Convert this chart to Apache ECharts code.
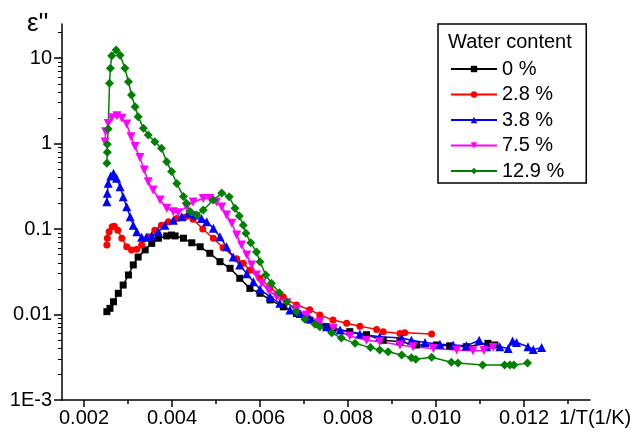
<!DOCTYPE html>
<html>
<head>
<meta charset="utf-8">
<script src="https://cdn.jsdelivr.net/npm/echarts@6/dist/echarts.min.js"></script>
<style>
  html, body { margin: 0; padding: 0; background: #fff; }
  #chart { width: 637px; height: 432px; }
</style>
</head>
<body>
<div id="chart"></div>
<script>
// 1/T values (1/K) and epsilon''
const invT_0 = [0.00252, 0.00259, 0.00267, 0.00278, 0.00289, 0.00301, 0.00312, 0.00323, 0.00339, 0.00354, 0.00369, 0.00388, 0.00399, 0.00407, 0.00426, 0.00445, 0.00464, 0.00486, 0.00509, 0.00532, 0.00554, 0.00577, 0.006, 0.00623, 0.00653, 0.00683, 0.00713, 0.00751, 0.00766, 0.00804, 0.00842, 0.0088, 0.00918, 0.00956, 0.01001, 0.01031, 0.01069, 0.01118, 0.01134];
const eps_0 = [0.0108, 0.0118, 0.0141, 0.0177, 0.0221, 0.029, 0.038, 0.047, 0.057, 0.068, 0.078, 0.083, 0.085, 0.083, 0.078, 0.069, 0.062, 0.052, 0.0415, 0.0347, 0.0265, 0.0202, 0.0177, 0.0148, 0.0123, 0.0103, 0.0086, 0.0072, 0.0069, 0.0063, 0.0058, 0.005, 0.0048, 0.0044, 0.0044, 0.0043, 0.0042, 0.0046, 0.0044];

const invT_28 = [0.00252, 0.00253, 0.00257, 0.00264, 0.00269, 0.00277, 0.00286, 0.00297, 0.00308, 0.0032, 0.00331, 0.00346, 0.00361, 0.00376, 0.00392, 0.00411, 0.00429, 0.00448, 0.0047, 0.00494, 0.00516, 0.00547, 0.00562, 0.00577, 0.006, 0.00623, 0.00653, 0.00683, 0.00713, 0.00736, 0.00766, 0.00797, 0.00827, 0.00865, 0.0088, 0.00918, 0.00929, 0.0099];
const eps_28 = [0.065, 0.078, 0.093, 0.106, 0.108, 0.097, 0.078, 0.062, 0.057, 0.058, 0.065, 0.081, 0.097, 0.111, 0.122, 0.133, 0.137, 0.13, 0.1, 0.078, 0.0605, 0.045, 0.0397, 0.033, 0.0265, 0.0205, 0.016, 0.0129, 0.0114, 0.0099, 0.0086, 0.0079, 0.0073, 0.0067, 0.0063, 0.006, 0.0061, 0.0059];

const invT_38 = [0.00252, 0.00253, 0.00255, 0.00261, 0.00267, 0.00274, 0.00282, 0.00289, 0.00297, 0.00305, 0.00312, 0.0032, 0.00331, 0.00342, 0.00354, 0.00369, 0.00384, 0.00403, 0.00422, 0.00437, 0.00452, 0.00467, 0.00479, 0.00494, 0.00509, 0.00524, 0.00539, 0.00554, 0.0057, 0.00585, 0.006, 0.00623, 0.00645, 0.00668, 0.00691, 0.00713, 0.00751, 0.00782, 0.00827, 0.00872, 0.00922, 0.00944, 0.00975, 0.01009, 0.01039, 0.01069, 0.01098, 0.01115, 0.01145, 0.01164, 0.01174, 0.01183, 0.01209, 0.01221, 0.0124];
const eps_38 = [0.208, 0.262, 0.342, 0.417, 0.448, 0.392, 0.313, 0.239, 0.182, 0.139, 0.111, 0.093, 0.08, 0.08, 0.083, 0.093, 0.111, 0.127, 0.139, 0.153, 0.146, 0.133, 0.122, 0.102, 0.081, 0.062, 0.047, 0.038, 0.03, 0.0242, 0.0197, 0.0161, 0.0135, 0.0113, 0.0103, 0.009, 0.0072, 0.0066, 0.0059, 0.0055, 0.0053, 0.005, 0.0047, 0.0045, 0.0044, 0.0043, 0.005, 0.0042, 0.0042, 0.004, 0.0049, 0.0047, 0.0042, 0.0039, 0.0041];

const invT_75 = [0.00248, 0.00249, 0.00255, 0.00263, 0.00275, 0.00286, 0.00297, 0.00307, 0.00316, 0.00327, 0.00337, 0.00346, 0.00357, 0.00373, 0.00388, 0.00403, 0.00414, 0.00433, 0.00448, 0.00471, 0.00486, 0.00501, 0.00513, 0.00524, 0.00536, 0.00547, 0.00558, 0.0057, 0.00581, 0.00592, 0.00604, 0.00619, 0.00638, 0.00661, 0.00683, 0.00706, 0.00736, 0.00766, 0.00804, 0.00842, 0.00872, 0.00918, 0.00948, 0.00994, 0.01047, 0.01084, 0.01109, 0.0113];
const eps_75 = [1.04, 1.37, 1.72, 2.0, 2.11, 1.97, 1.69, 1.2, 0.92, 0.686, 0.49, 0.357, 0.286, 0.218, 0.175, 0.159, 0.155, 0.182, 0.207, 0.227, 0.228, 0.207, 0.181, 0.146, 0.117, 0.085, 0.065, 0.0497, 0.038, 0.029, 0.0232, 0.0194, 0.0161, 0.0137, 0.0115, 0.0099, 0.0082, 0.0069, 0.0056, 0.005, 0.0048, 0.0044, 0.0042, 0.004, 0.00385, 0.00378, 0.0038, 0.0041];

const invT_129 = [0.00252, 0.00253, 0.00253, 0.00255, 0.00258, 0.0026, 0.00263, 0.00273, 0.00282, 0.00293, 0.00301, 0.00308, 0.00316, 0.00323, 0.00335, 0.00346, 0.00361, 0.00376, 0.00388, 0.00399, 0.00411, 0.00426, 0.00433, 0.00441, 0.00456, 0.00471, 0.00494, 0.00513, 0.0053, 0.00543, 0.00553, 0.00562, 0.00568, 0.00579, 0.00592, 0.006, 0.00613, 0.00626, 0.00644, 0.00661, 0.00683, 0.00702, 0.00725, 0.00736, 0.00763, 0.00785, 0.00816, 0.00851, 0.00872, 0.00891, 0.00922, 0.00944, 0.00954, 0.0099, 0.01035, 0.0105, 0.01106, 0.01156, 0.01168, 0.01177, 0.01208];
const eps_129 = [0.586, 0.79, 0.98, 1.48, 5.06, 7.6, 10.6, 12.4, 10.8, 7.6, 5.28, 3.69, 2.69, 2.06, 1.51, 1.26, 1.05, 0.88, 0.61, 0.47, 0.34, 0.24, 0.2, 0.16, 0.146, 0.167, 0.218, 0.264, 0.239, 0.175, 0.142, 0.111, 0.089, 0.069, 0.054, 0.0415, 0.029, 0.0232, 0.018, 0.0141, 0.0108, 0.0088, 0.0077, 0.0072, 0.0061, 0.0053, 0.0046, 0.0041, 0.00385, 0.00367, 0.00336, 0.00313, 0.003, 0.00316, 0.00276, 0.0027, 0.00257, 0.00257, 0.00257, 0.00257, 0.0027];

const seriesNames = ['0 %', '2.8 %', '3.8 %', '7.5 %', '12.9 %'];
const xTicks = [0.002, 0.004, 0.006, 0.008, 0.010, 0.012];
const xMinorTicks = [0.003, 0.005, 0.007, 0.009, 0.011, 0.013];
const yTicks = [0.001, 0.01, 0.1, 1, 10];
const yMinorTicks = [];
[0.001, 0.01, 0.1, 1, 10].forEach(d => {
  for (let k = 2; k <= 9; k++) {
    if (d * k < 25) yMinorTicks.push(+(d * k).toPrecision(3));
  }
});

const FONT = 'Liberation Sans, Arial, sans-serif';

function zip(xs, ys) {
  return xs.map((x, i) => [x, ys[i]]);
}

function makeSeries(name, xs, ys, color, symbol, size, rotate) {
  return {
    name: name,
    type: 'line',
    data: zip(xs, ys),
    symbol: symbol,
    symbolSize: size,
    symbolRotate: rotate || 0,
    showAllSymbol: true,
    color: color,
    lineStyle: { color: color, width: 1.5 },
    itemStyle: { color: color },
    emphasis: { disabled: true }
  };
}

const chart = echarts.init(document.getElementById('chart'));

const axisCommon = {
  axisLine: { show: true, onZero: false, lineStyle: { color: '#000', width: 1.5 } },
  splitLine: { show: false }
};

const option = {
  animation: false,
  backgroundColor: '#fff',
  grid: { left: 62, right: 47, top: 24, bottom: 32, outerBoundsMode: 'none' },
  xAxis: [{
    type: 'value',
    min: 0.0015,
    max: 0.0135,
    ...axisCommon,
    axisTick: { show: true, customValues: xTicks, length: 7, lineStyle: { color: '#000', width: 1.5 } },
    axisLabel: {
      customValues: xTicks,
      formatter: v => v.toFixed(3),
      color: '#000', fontFamily: FONT, fontSize: 20, margin: 8
    }
  }, {
    type: 'value',
    min: 0.0015,
    max: 0.0135,
    position: 'bottom',
    axisLine: { show: false },
    splitLine: { show: false },
    axisTick: { show: true, customValues: xMinorTicks, length: 4, lineStyle: { color: '#000', width: 1.5 } },
    axisLabel: { show: false }
  }],
  yAxis: [{
    type: 'log',
    logBase: 10,
    min: 0.001,
    max: 25,
    ...axisCommon,
    axisTick: { show: true, customValues: yTicks, length: 8, lineStyle: { color: '#000', width: 1.5 } },
    axisLabel: {
      customValues: yTicks,
      formatter: v => (Math.abs(v - 0.001) < 1e-9 ? '1E-3' : String(+v.toPrecision(3))),
      color: '#000', fontFamily: FONT, fontSize: 20, margin: 10
    }
  }, {
    type: 'log',
    logBase: 10,
    min: 0.001,
    max: 25,
    position: 'left',
    axisLine: { show: false },
    splitLine: { show: false },
    axisTick: { show: true, customValues: yMinorTicks, length: 4, lineStyle: { color: '#000', width: 1 } },
    axisLabel: { show: false }
  }],
  legend: {
    orient: 'vertical',
    left: 438,
    top: 24,
    padding: [35, 22, 2, 12],
    borderColor: '#000',
    borderWidth: 1.5,
    itemWidth: 46,
    itemHeight: 8,
    itemGap: 5.5,
    data: seriesNames,
    textStyle: { color: '#000', fontFamily: FONT, fontSize: 20 }
  },
  graphic: [
    {
      type: 'text',
      left: 448,
      top: 32,
      style: { text: 'Water content', font: '20px ' + FONT, fill: '#000' }
    },
    {
      type: 'text',
      left: 27,
      top: 11,
      style: { text: "\u03b5''", font: '26px ' + FONT, fill: '#000' }
    },
    {
      type: 'text',
      left: 559,
      top: 408,
      style: { text: '1/T(1/K)', font: '20px ' + FONT, fill: '#000' }
    }
  ],
  series: [
    makeSeries(seriesNames[0], invT_0, eps_0, '#000000', 'rect', 7),
    makeSeries(seriesNames[1], invT_28, eps_28, '#ff0000', 'circle', 7),
    makeSeries(seriesNames[2], invT_38, eps_38, '#0000ff', 'triangle', 9),
    makeSeries(seriesNames[3], invT_75, eps_75, '#ff00ff', 'triangle', 9, 180),
    makeSeries(seriesNames[4], invT_129, eps_129, '#008000', 'diamond', 9)
  ]
};

chart.setOption(option);
</script>
</body>
</html>
